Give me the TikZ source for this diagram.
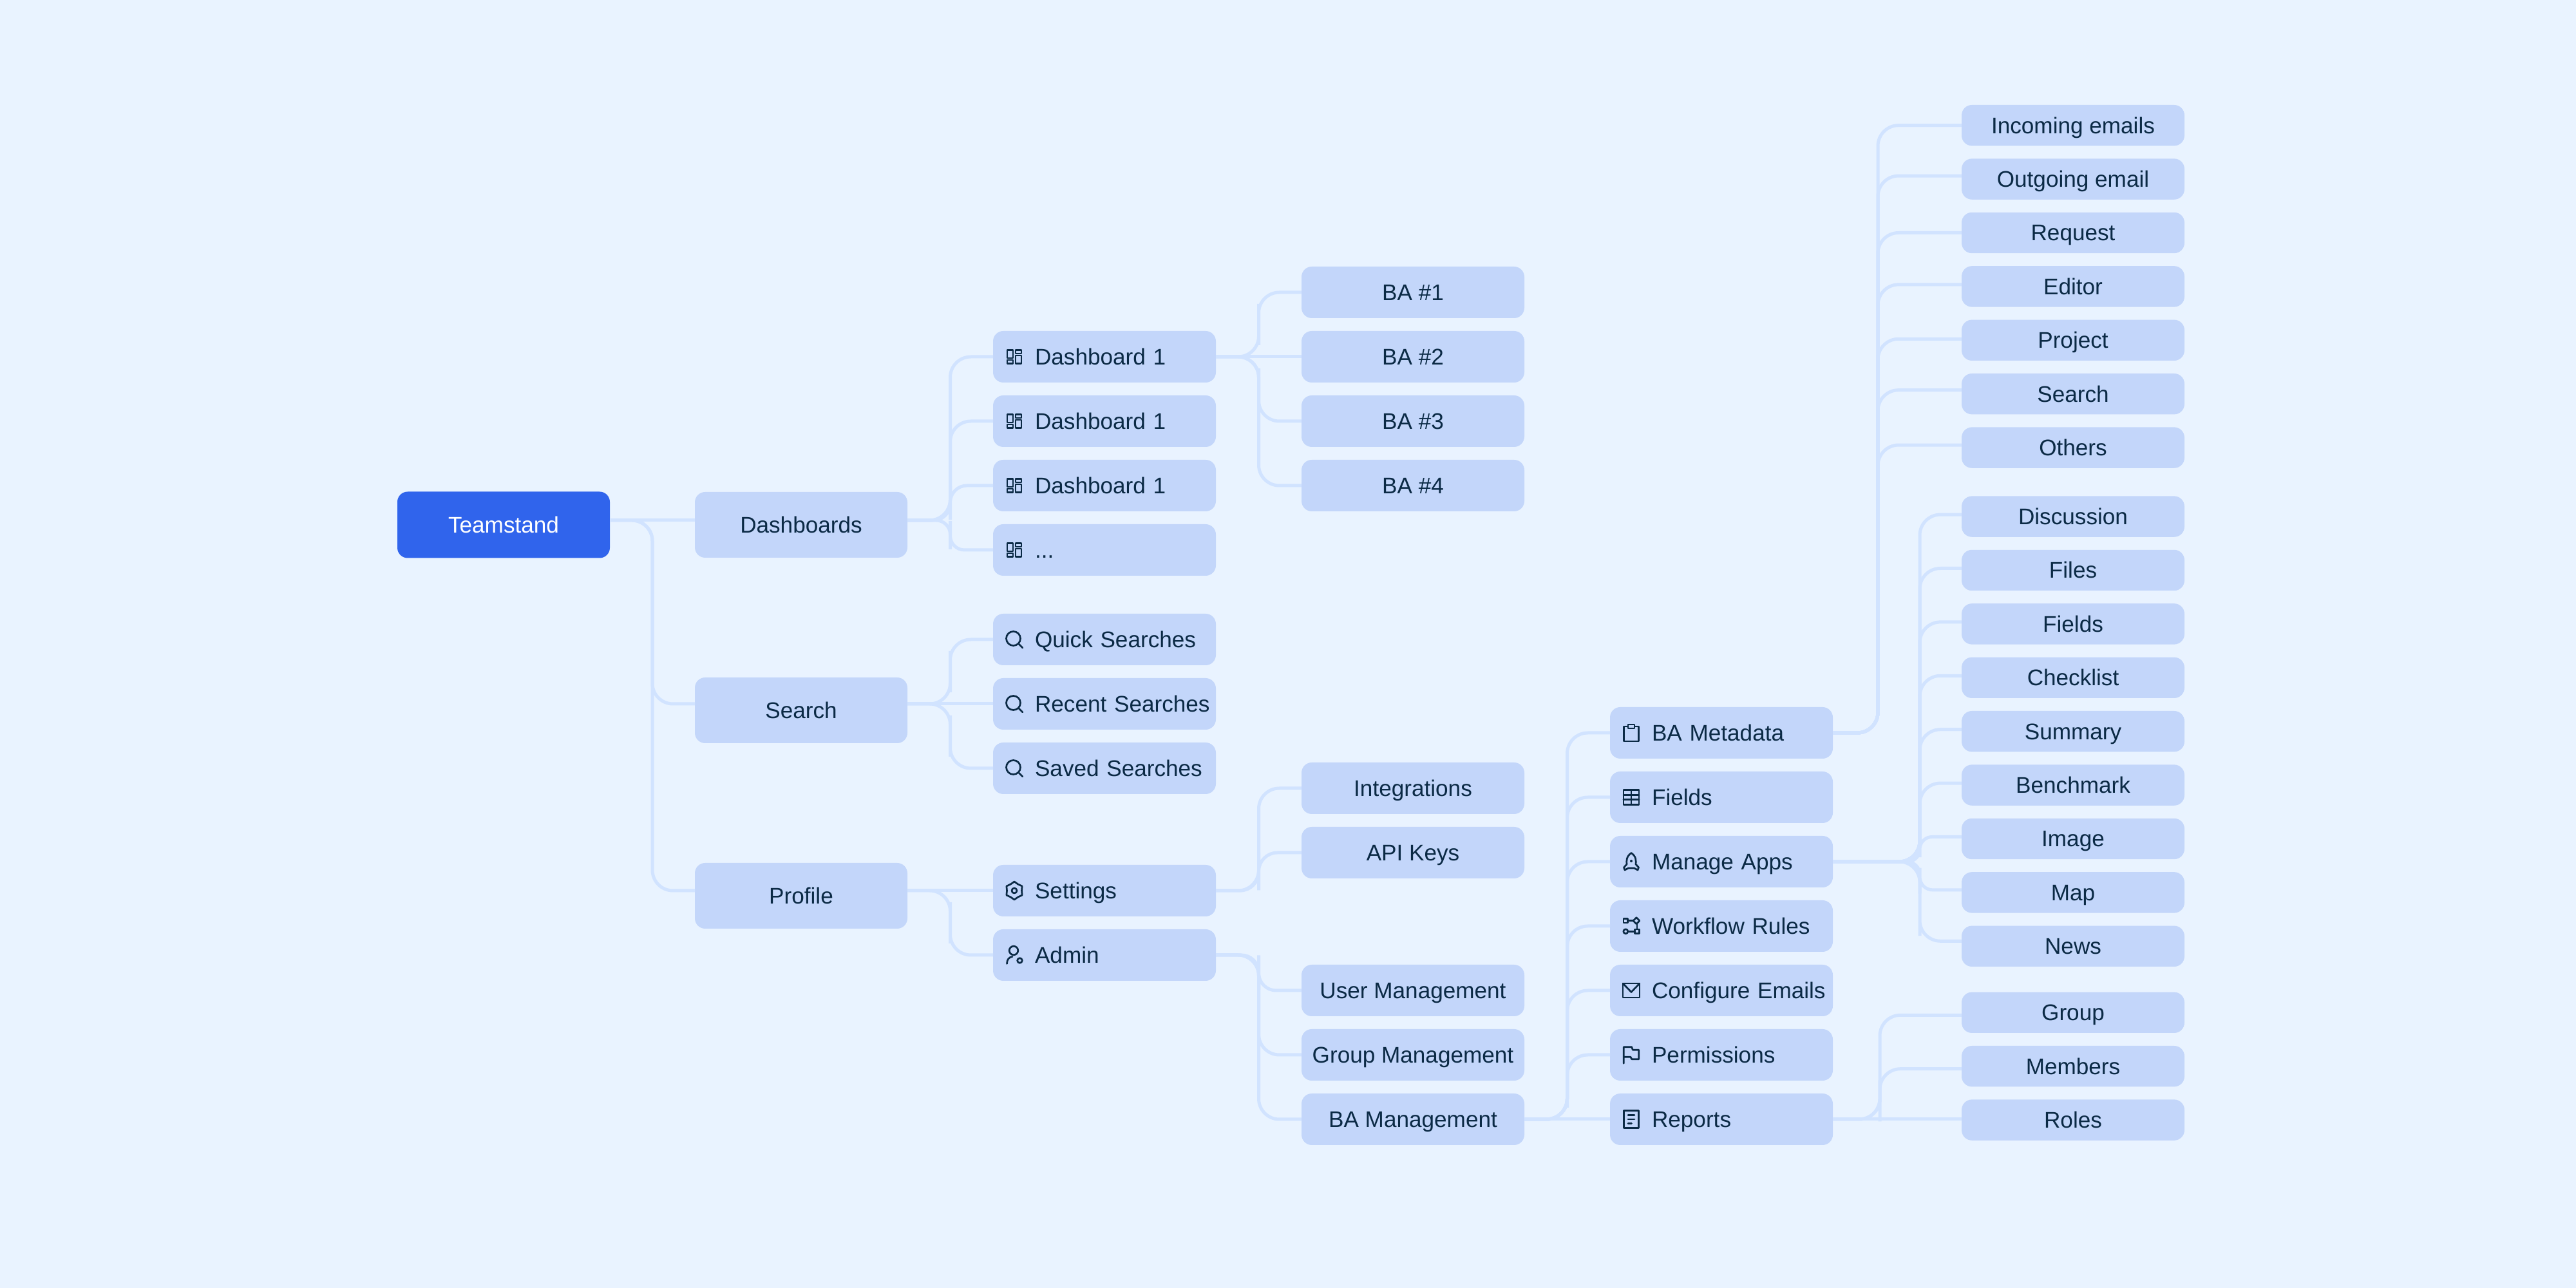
\documentclass[tikz,border=0pt]{standalone}
\usepackage{xcolor}
\usepackage{fontspec}
\setmainfont{Liberation Sans}
\usetikzlibrary{positioning, calc}
\definecolor{paper}{HTML}{E9F3FF}
\definecolor{boxblue}{HTML}{C3D6FA}
\definecolor{rootblue}{HTML}{3064EC}
\definecolor{wire}{HTML}{D1E3FF}
\definecolor{ink}{HTML}{0B2A45}
\tikzset{
    ico/.style={draw=ink, line width=.27mm, line join=round, line cap=round},
    pics/gridico/.style={code={
        \draw[ico, line width=.22mm] (-1.13,-.2) rectangle (-.2,1.05) (-1.13,-1.05) rectangle (-.2,-.52);
        \draw[ico, line width=.22mm] (.2,.52) rectangle (1.13,1.05) (.2,-1.05) rectangle (1.13,.2);
    }},
    pics/lensico/.style={code={
        \draw[ico] (-.15,.15) circle (1.1) (.62,-.62) -- (1.3,-1.3);
    }},
    pics/gearico/.style={code={
        \draw[ico] (90:1.4) -- (60:1.15) -- (30:1.4) -- (0:1.15) -- (-30:1.4) -- (-60:1.15) -- (-90:1.4) -- (-120:1.15) -- (-150:1.4) -- (180:1.15) -- (150:1.4) -- (120:1.15) -- cycle;
        \draw[ico] (0,0) circle (.4);
    }},
    pics/adminico/.style={code={
        \draw[ico] (-.1,.7) circle (.68);
        \draw[ico] (-1.15,-1.35) .. controls (-1.15,-.7) and (-.8,-.3) .. (-.3,-.25);
        \draw[ico] (.85,-.85) circle (.38);
    }},
    pics/clipico/.style={code={
        \draw[ico] (-.5,1) -- (-1.15,1) -- (-1.15,-1.3) -- (1.15,-1.3) -- (1.15,1) -- (.5,1);
        \draw[ico] (-.5,.7) rectangle (.5,1.3);
    }},
    pics/tableico/.style={code={
        \draw[ico] (-1.2,-1.15) rectangle (1.2,1.15);
        \draw[ico] (0,-1.15) -- (0,1.15) (-1.2,.38) -- (1.2,.38) (-1.2,-.38) -- (1.2,-.38);
    }},
    pics/rocketico/.style={code={
        \draw[ico] (0,1.35) .. controls (-.8,.8) and (-.75,.1) .. (-.7,-.4) -- (-1.15,-.9) -- (-1,-1.3) -- (-.45,-1) -- (.45,-1) -- (1,-1.3) -- (1.15,-.9) -- (.7,-.4) .. controls (.75,.1) and (.8,.8) .. (0,1.35) -- cycle;
        \fill[ink] (0,.1) circle (.2);
    }},
    pics/flowico/.style={code={
        \draw[ico] (-1.2,.5) rectangle (-.53,1.17) (.57,-1.17) rectangle (1.23,-.5);
        \draw[ico] (.8,.33) -- (1.3,.83) -- (.8,1.33) -- (.3,.83) -- cycle;
        \draw[ico] (-.87,-.83) circle (.35);
        \draw[ico] (-.53,.83) -- (.3,.83) (-.52,-.83) -- (.57,-.83) (.9,.33) -- (.9,-.5);
    }},
    pics/mailico/.style={code={
        \draw[ico] (-1.3,-1.1) rectangle (1.3,1.1);
        \draw[ico] (-1.3,1.1) -- (0,-.25) -- (1.3,1.1);
    }},
    pics/flagico/.style={code={
        \draw[ico] (-1.17,-1.33) -- (-1.17,1.23) -- (.07,1.23) -- (.23,.77) -- (1.17,.77) -- (1.17,-.67) -- (.07,-.67) -- (-.1,-.33) -- (-1.17,-.33);
    }},
    pics/docico/.style={code={
        \draw[ico] (-1.15,-1.35) rectangle (1.15,1.35);
        \draw[ico] (-.5,.65) -- (.5,.65) (-.5,0) -- (.5,0) (-.5,-.65) -- (.05,-.65);
    }},
}
\begin{document}
\begin{tikzpicture}[
    every pic/.style={x=1mm, y=1mm},
    label text/.style={font=\fontsize{10pt}{12pt}\selectfont, text=ink, text height=3.3mm, text depth=.8mm},
    boxed/.style={label text, fill=boxblue, rounded corners=1.6mm, inner sep=0pt, outer sep=0pt, align=center},
    root/.style={boxed, fill=rootblue, text=white, minimum width=33mm, minimum height=10.3mm},
    area/.style={boxed, minimum width=33mm, minimum height=10.2mm},
    item/.style={boxed, minimum width=34.6mm, minimum height=8mm},
    tool/.style={boxed, minimum height=8mm, text width=34.6mm, align=left, execute at begin node=\hspace*{6.5mm}},
    tag/.style={boxed, minimum width=34.6mm, minimum height=6.34mm},
    wiring/.style={draw=wire, line width=.5mm},
    branch/.style={wiring, rounded corners=3.2mm, to path={-| ($(\tikztostart)!#1!(\tikztotarget)$) |- (\tikztotarget)}},
    branch/.default=.5,
]
    \fill[paper] (0,0) rectangle (40,20);

    \node[root] (team) at (7.82,11.85) {Teamstand};
    \node[area, right=13.2mm of team] (dash) {Dashboards};
    \node[area, below=18.6mm of dash] (search) {Search};
    \node[area, below=18.6mm of search] (profile) {Profile};

    \node[tool, right=13.3mm of dash, yshift=26.1mm] (dashA) {Dashboard 1};
    \node[tool, below=2mm of dashA] (dashB) {Dashboard 1};
    \node[tool, below=2mm of dashB] (dashC) {Dashboard 1};
    \node[tool, below=2mm of dashC] (dashD) {...};
    \node[tool, right=13.3mm of search, yshift=1mm] (recent) {Recent Searches};
    \node[tool, above=2mm of recent] (quick) {Quick Searches};
    \node[tool, below=2mm of recent] (saved) {Saved Searches};
    \node[tool, right=13.3mm of profile, yshift=.8mm] (settings) {Settings};
    \node[tool, below=2mm of settings] (admin) {Admin};

    \node[item, right=13.3mm of dashA] (baB) {BA \#2};
    \node[item, above=2mm of baB] (baA) {BA \#1};
    \node[item, below=2mm of baB] (baC) {BA \#3};
    \node[item, below=2mm of baC] (baD) {BA \#4};
    \node[item, right=13.3mm of settings, yshift=5.9mm] (keys) {API Keys};
    \node[item, above=2mm of keys] (integ) {Integrations};
    \node[item, right=13.3mm of admin, yshift=-5.5mm] (users) {User Management};
    \node[item, below=2mm of users] (groups) {Group Management};
    \node[item, below=2mm of groups] (bamgmt) {BA Management};

    \node[tool, right=13.3mm of bamgmt] (reports) {Reports};
    \node[tool, above=2mm of reports] (perms) {Permissions};
    \node[tool, above=2mm of perms] (mails) {Configure Emails};
    \node[tool, above=2mm of mails] (rules) {Workflow Rules};
    \node[tool, above=2mm of rules] (apps) {Manage Apps};
    \node[tool, above=2mm of apps] (fields) {Fields};
    \node[tool, above=2mm of fields] (meta) {BA Metadata};

    \node[tag, right=20mm of apps, yshift=3.55mm] (image) {Image};
    \node[tag, above=2mm of image] (bench) {Benchmark};
    \node[tag, above=2mm of bench] (summary) {Summary};
    \node[tag, above=2mm of summary] (check) {Checklist};
    \node[tag, above=2mm of check] (tfields) {Fields};
    \node[tag, above=2mm of tfields] (files) {Files};
    \node[tag, above=2mm of files] (talk) {Discussion};
    \node[tag, below=2mm of image] (map) {Map};
    \node[tag, below=2mm of map] (news) {News};
    \node[tag, above=4.36mm of talk] (others) {Others};
    \node[tag, above=2mm of others] (tsearch) {Search};
    \node[tag, above=2mm of tsearch] (project) {Project};
    \node[tag, above=2mm of project] (editor) {Editor};
    \node[tag, above=2mm of editor] (request) {Request};
    \node[tag, above=2mm of request] (outgoing) {Outgoing email};
    \node[tag, above=2mm of outgoing] (incoming) {Incoming emails};
    \node[tag, below=3.96mm of news] (group) {Group};
    \node[tag, below=2mm of group] (members) {Members};
    \node[tag, below=2mm of members] (roles) {Roles};

    \pic at ([xshift=3.3mm]dashA.west) {gridico};
    \pic at ([xshift=3.3mm]dashB.west) {gridico};
    \pic at ([xshift=3.3mm]dashC.west) {gridico};
    \pic at ([xshift=3.3mm]dashD.west) {gridico};
    \pic at ([xshift=3.3mm]quick.west) {lensico};
    \pic at ([xshift=3.3mm]recent.west) {lensico};
    \pic at ([xshift=3.3mm]saved.west) {lensico};
    \pic at ([xshift=3.3mm]settings.west) {gearico};
    \pic at ([xshift=3.3mm]admin.west) {adminico};
    \pic at ([xshift=3.3mm]meta.west) {clipico};
    \pic at ([xshift=3.3mm]fields.west) {tableico};
    \pic at ([xshift=3.3mm]apps.west) {rocketico};
    \pic at ([xshift=3.3mm]rules.west) {flowico};
    \pic at ([xshift=3.3mm]mails.west) {mailico};
    \pic at ([xshift=3.3mm]perms.west) {flagico};
    \pic at ([xshift=3.3mm]reports.west) {docico};

    \draw[wiring] ([yshift=.7mm]team.east) -- ([yshift=.7mm]dash.west);
    \draw[branch] ([yshift=.7mm]team.east) to ([yshift=1mm]search.west);
    \draw[branch] ([yshift=.7mm]team.east) to ([yshift=.8mm]profile.west);

    \draw[branch] ([yshift=.7mm]dash.east) to (dashA.west);
    \draw[branch] ([yshift=.7mm]dash.east) to (dashB.west);
    \draw[branch, rounded corners=2.6mm] ([yshift=.7mm]dash.east) to (dashC.west);
    \draw[branch, rounded corners=2.2mm] ([yshift=.7mm]dash.east) to (dashD.west);
    \draw[branch] ([yshift=1mm]search.east) to (quick.west);
    \draw[wiring] ([yshift=1mm]search.east) -- (recent.west);
    \draw[branch] ([yshift=1mm]search.east) to (saved.west);
    \draw[wiring] ([yshift=.8mm]profile.east) -- (settings.west);
    \draw[branch] ([yshift=.8mm]profile.east) to (admin.west);

    \draw[branch] (dashA.east) to (baA.west);
    \draw[wiring] (dashA.east) -- (baB.west);
    \draw[branch] (dashA.east) to (baC.west);
    \draw[branch] (dashA.east) to (baD.west);
    \draw[branch] (settings.east) to (integ.west);
    \draw[branch, rounded corners=2.9mm] (settings.east) to (keys.west);
    \draw[branch, rounded corners=2.7mm] (admin.east) to (users.west);
    \draw[branch] (admin.east) to (groups.west);
    \draw[branch] (admin.east) to (bamgmt.west);

    \draw[branch] (bamgmt.east) to (meta.west);
    \draw[branch] (bamgmt.east) to (fields.west);
    \draw[branch] (bamgmt.east) to (apps.west);
    \draw[branch] (bamgmt.east) to (rules.west);
    \draw[branch] (bamgmt.east) to (mails.west);
    \draw[branch] (bamgmt.east) to (perms.west);
    \draw[wiring] (bamgmt.east) -- (reports.west |- bamgmt.east);

    \draw[branch=.35] (meta.east) to (incoming.west);
    \draw[branch=.35] (meta.east) to ([yshift=.5mm]outgoing.west);
    \draw[branch=.35] (meta.east) to (request.west);
    \draw[branch=.35] (meta.east) to ([yshift=.3mm]editor.west);
    \draw[branch=.35] (meta.east) to ([yshift=.2mm]project.west);
    \draw[branch=.35] (meta.east) to ([yshift=.6mm]tsearch.west);
    \draw[branch=.35] (meta.east) to ([yshift=.4mm]others.west);

    \draw[branch=.675] (apps.east) to ([yshift=.3mm]talk.west);
    \draw[branch=.675] (apps.east) to ([yshift=.3mm]files.west);
    \draw[branch=.675] (apps.east) to ([yshift=.3mm]tfields.west);
    \draw[branch=.675] (apps.east) to ([yshift=.3mm]check.west);
    \draw[branch=.675] (apps.east) to ([yshift=.3mm]summary.west);
    \draw[branch=.675] (apps.east) to ([yshift=.3mm]bench.west);
    \draw[branch=.675, rounded corners=1.9mm] (apps.east) to ([yshift=.3mm]image.west);
    \draw[branch=.675, rounded corners=2mm] (apps.east) to ([yshift=.4mm]map.west);
    \draw[branch=.675] (apps.east) to ([yshift=.8mm]news.west);

    \draw[branch=.365] (reports.east) to ([yshift=-.4mm]group.west);
    \draw[branch=.365] (reports.east) to ([yshift=-.4mm]members.west);
    \draw[wiring] (reports.east) -- (roles.west |- reports.east);
\end{tikzpicture}
\end{document}
